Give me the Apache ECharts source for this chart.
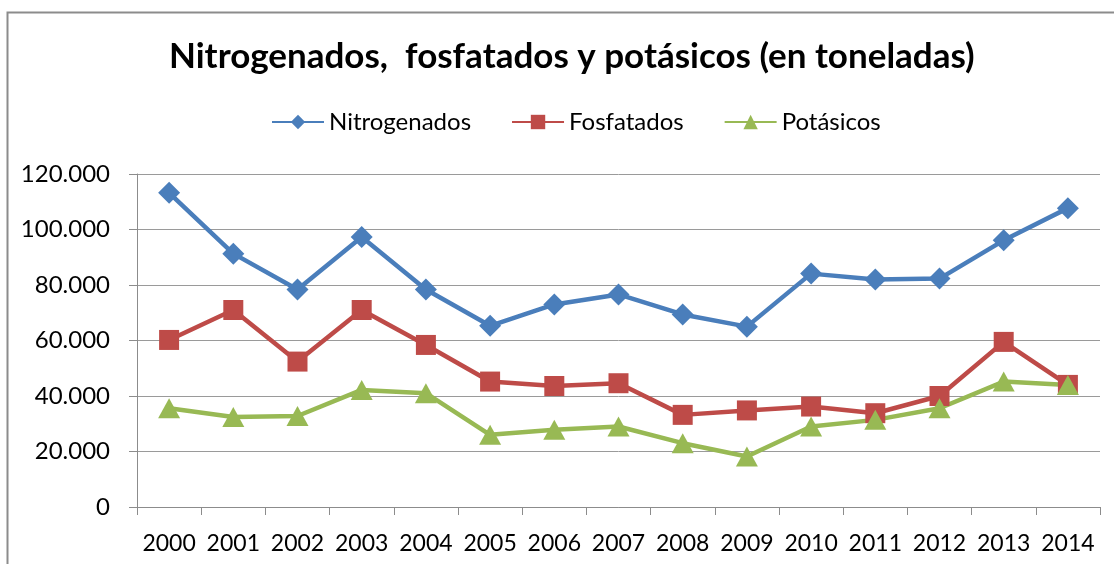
<!DOCTYPE html>
<html>
<head>
<meta charset="utf-8">
<script src="https://cdn.jsdelivr.net/npm/echarts@6/dist/echarts.min.js"></script>
<style>
html,body{margin:0;padding:0;background:#fff;}
#chart{width:1114px;height:564px;}
</style>
</head>
<body>
<div id="chart"></div>
<script>
const years = ['2000','2001','2002','2003','2004','2005','2006','2007','2008','2009','2010','2011','2012','2013','2014'];
const nitrogenados = [113200, 91300, 78400, 97300, 78400, 65300, 73000, 76600, 69400, 65000, 84100, 82000, 82300, 96100, 107700];
const fosfatados = [60200, 71000, 52400, 71000, 58400, 45200, 43600, 44600, 33200, 34800, 36200, 33800, 40000, 59500, 44000];
const potasicos = [35600, 32400, 32800, 42200, 41000, 26000, 27800, 29000, 23000, 18200, 29000, 31400, 35600, 45200, 44000];
const yTicks = { min: 0, max: 120000, interval: 20000 };

const fmt = v => v === 0 ? '0' : String(v).replace(/\B(?=(\d{3})+(?!\d))/g, '.');
const FONT = 'Lato';

const chart = echarts.init(document.getElementById('chart'), null, { renderer: 'canvas' });
chart.setOption({
  backgroundColor: '#fff',
  animation: false,
  graphic: [{
    type: 'rect', left: 5, top: 10,
    shape: { width: 1200, height: 600 },
    style: { fill: 'none', stroke: '#8c8c8c', lineWidth: 2 }
  }],
  title: {
    text: 'Nitrogenados,  fosfatados y potásicos (en toneladas)',
    left: 164, top: 34,
    textStyle: { fontFamily: FONT, fontWeight: 'bold', fontSize: 35, color: '#000' }
  },
  legend: {
    top: 105, left: 266,
    itemWidth: 52, itemHeight: 18, itemGap: 40,
    textStyle: { fontFamily: FONT, fontSize: 24, color: '#000' },
    data: ['Nitrogenados', 'Fosfatados', 'Potásicos']
  },
  grid: { left: 137, right: 14, top: 174, bottom: 57, containLabel: false },
  xAxis: {
    type: 'category', data: years, boundaryGap: true,
    axisLine: { lineStyle: { color: '#8c8c8c', width: 1 } },
    axisTick: { show: true, length: 8, lineStyle: { color: '#8c8c8c' } },
    axisLabel: { fontFamily: FONT, fontSize: 23, color: '#000', margin: 25, interval: 0 }
  },
  yAxis: {
    type: 'value', min: yTicks.min, max: yTicks.max, interval: yTicks.interval,
    axisLine: { show: true, lineStyle: { color: '#8c8c8c', width: 1 } },
    axisTick: { show: true, length: 8, inside: false, lineStyle: { color: '#8c8c8c' } },
    axisLabel: { fontFamily: FONT, fontSize: 24, color: '#000', margin: 27, formatter: fmt },
    splitLine: { lineStyle: { color: '#9a9a9a', width: 1 } }
  },
  series: [
    {
      name: 'Nitrogenados', type: 'line', data: nitrogenados,
      symbol: 'diamond', symbolSize: [22, 22],
      lineStyle: { color: '#4a7ebb', width: 4.5 },
      itemStyle: { color: '#4a7ebb' }
    },
    {
      name: 'Fosfatados', type: 'line', data: fosfatados,
      symbol: 'rect', symbolSize: [20, 20],
      lineStyle: { color: '#be4b48', width: 4.5 },
      itemStyle: { color: '#be4b48' }
    },
    {
      name: 'Potásicos', type: 'line', data: potasicos,
      symbol: 'triangle', symbolSize: [22, 20],
      lineStyle: { color: '#98b954', width: 4.5 },
      itemStyle: { color: '#98b954' }
    }
  ]
});
</script>
</body>
</html>
